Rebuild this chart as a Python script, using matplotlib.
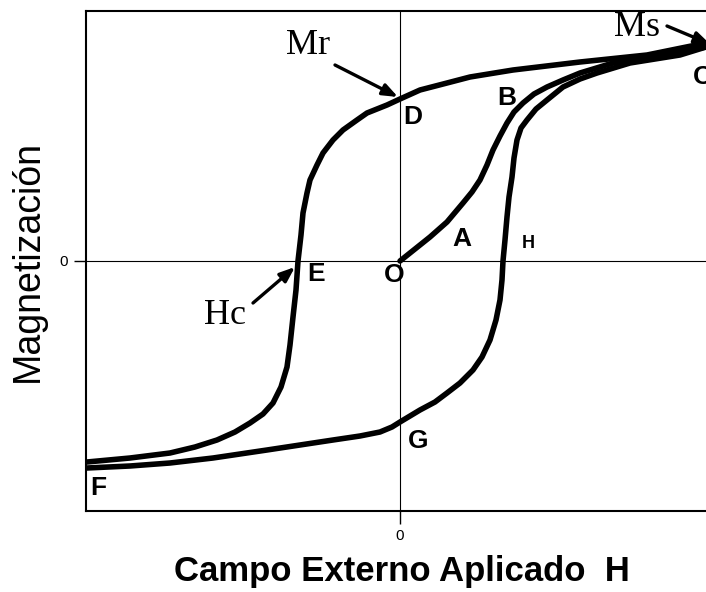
import matplotlib
matplotlib.use("Agg")
import matplotlib.pyplot as plt

# hysteresis loop, field and magnetization in arbitrary units
# descending branch C -> D -> E -> F
h_down = [3.06, 2.47, 1.80, 1.13, 0.70, 0.47, 0.20, 0.00, -0.13, -0.33,
          -0.43, -0.57, -0.67, -0.77, -0.83, -0.90, -0.93, -0.97, -0.99, -1.02,
          -1.04, -1.07, -1.10, -1.13, -1.19, -1.27, -1.37, -1.50, -1.65, -1.83,
          -2.05, -2.30, -2.70, -3.13]
m_down = [2.18, 2.06, 1.99, 1.91, 1.84, 1.78, 1.71, 1.62, 1.56, 1.48,
          1.41, 1.31, 1.21, 1.08, 0.96, 0.81, 0.68, 0.48, 0.26, 0.00,
          -0.29, -0.56, -0.84, -1.06, -1.26, -1.42, -1.53, -1.62, -1.71, -1.79,
          -1.86, -1.92, -1.97, -2.01]

# ascending branch F -> G -> H -> C
h_up = [-3.13, -2.70, -2.30, -1.87, -1.33, -0.67, -0.40, -0.20, -0.08, 0.00,
        0.10, 0.20, 0.35, 0.47, 0.60, 0.73, 0.82, 0.90, 0.96, 1.00,
        1.02, 1.03, 1.05, 1.07, 1.09, 1.12, 1.14, 1.17, 1.21, 1.27,
        1.36, 1.47, 1.63, 1.80, 1.97, 2.30, 2.80, 3.06]
m_up = [-2.07, -2.05, -2.02, -1.97, -1.89, -1.79, -1.75, -1.71, -1.66, -1.61,
        -1.55, -1.49, -1.41, -1.32, -1.22, -1.09, -0.96, -0.79, -0.59, -0.39,
        -0.19, 0.00, 0.21, 0.44, 0.64, 0.84, 1.03, 1.21, 1.33, 1.41,
        1.52, 1.61, 1.74, 1.82, 1.88, 1.98, 2.06, 2.14]

# first magnetization curve O -> A -> B -> C
h_init = [0.00, 0.15, 0.30, 0.47, 0.63, 0.72, 0.80, 0.87, 0.93, 1.00,
          1.07, 1.14, 1.23, 1.34, 1.47, 1.63, 1.80, 2.13, 2.47, 3.06]
m_init = [0.00, 0.12, 0.24, 0.39, 0.58, 0.69, 0.81, 0.96, 1.11, 1.25,
          1.38, 1.49, 1.58, 1.67, 1.74, 1.81, 1.88, 1.98, 2.04, 2.14]

# point letters and where they sit
point_names = ["D", "B", "A", "H", "E", "O", "G", "F", "C"]
point_h = [0.13, 1.07, 0.62, 1.28, -0.84, -0.06, 0.18, -3.02, 2.93]
point_m = [1.44, 1.63, 0.22, 0.18, -0.13, -0.14, -1.80, -2.27, 1.84]
point_size = [19, 19, 19, 13, 19, 19, 19, 19, 19]

fig = plt.figure(figsize=(7.06, 5.92), dpi=100)
ax = fig.add_axes([86 / 706, 81 / 592, 620 / 706, 500 / 592])

ax.axvline(0, color="black", lw=0.8, zorder=1)
ax.axhline(0, color="black", lw=0.8, zorder=1)

kw = dict(color="black", lw=4, solid_joinstyle="round", solid_capstyle="round", zorder=3)
ax.plot(h_down, m_down, **kw)
ax.plot(h_up, m_up, **kw)
ax.plot(h_init, m_init, **kw)

ax.set_xlim(-3.14, 3.06)
ax.set_ylim(-2.5, 2.5)
ax.set_xticks([0])
ax.set_yticks([0])
ax.tick_params(direction="out", length=9, width=1, labelsize=11, pad=4,
               labelfontfamily="Liberation Sans")
for side in ["left", "top", "bottom"]:
    ax.spines[side].set_linewidth(1.5)
ax.spines["right"].set_visible(False)

for name, h, m, s in zip(point_names, point_h, point_m, point_size):
    ha = "left" if name == "C" else "center"
    ax.text(h, m, name, fontsize=s, fontweight="bold", family="Liberation Sans",
            ha=ha, va="center", zorder=4, clip_on=False)

# Mr, Ms and Hc callouts
serif = dict(family="Liberation Serif", fontsize=26, ha="center", va="center")
arrow = dict(arrowstyle="-|>,head_length=0.9,head_width=0.35", color="black",
             lw=2.4, shrinkA=0, shrinkB=0)
ax.text(-0.92, 2.15, "Mr", **serif)
ax.annotate("", xy=(-0.02, 1.64), xytext=(-0.65, 1.96), arrowprops=arrow,
            annotation_clip=False)
ax.text(2.37, 2.33, "Ms", **serif)
ax.annotate("", xy=(3.10, 2.17), xytext=(2.67, 2.35), arrowprops=arrow,
            annotation_clip=False)
ax.text(-1.75, -0.55, "Hc", **serif)
ax.annotate("", xy=(-1.05, -0.06), xytext=(-1.47, -0.42), arrowprops=arrow,
            annotation_clip=False)

fig.text(402 / 706, 1 - 572 / 592, "Campo Externo Aplicado  H", fontsize=25,
         fontweight="bold", family="Liberation Sans", ha="center", va="center")
fig.text(28 / 706, 1 - 261 / 592, "Magnetización", fontsize=27,
         family="Liberation Sans", rotation=90, ha="center", va="center")

fig.savefig("out.png", dpi=100)
